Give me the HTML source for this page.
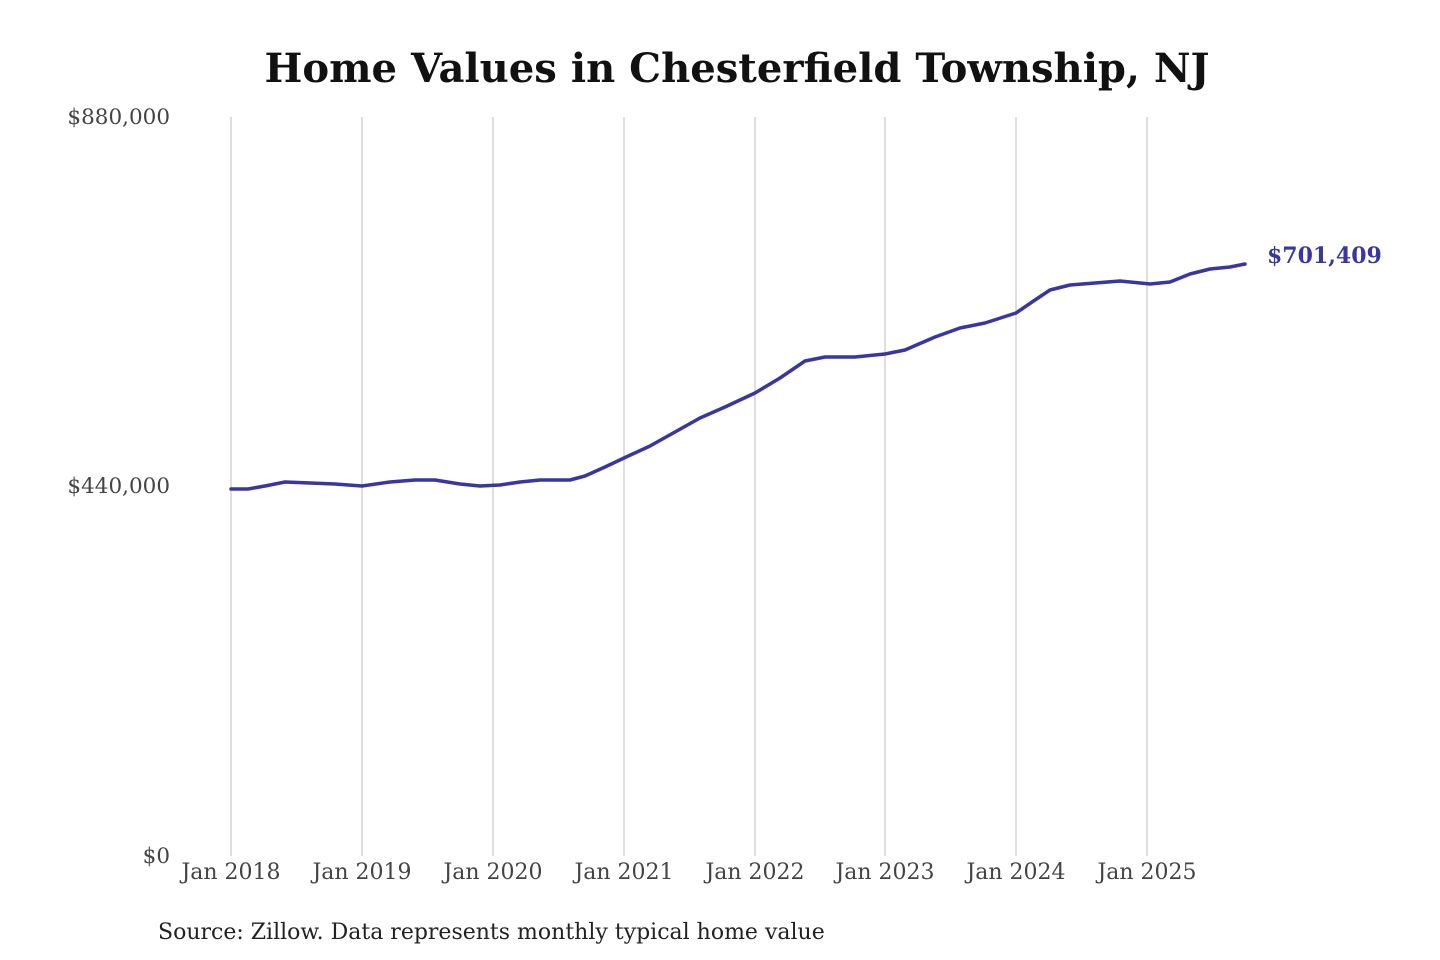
<!DOCTYPE html>
<html><head><meta charset="utf-8"><style>
html,body{margin:0;padding:0;background:#fff;}
svg{display:block;}
text{font-family:"DejaVu Serif","Liberation Serif",serif;}
</style></head><body>
<svg width="1440" height="960" viewBox="0 0 1440 960" xmlns="http://www.w3.org/2000/svg">
<rect width="1440" height="960" fill="#fff"/>
<text x="737" y="82" text-anchor="middle" font-size="40" font-weight="bold" fill="#111" textLength="945" lengthAdjust="spacingAndGlyphs">Home Values in Chesterfield Township, NJ</text>
<g stroke="#c8c8c8" stroke-width="1.2">
<line x1="231" y1="117" x2="231" y2="856"/>
<line x1="362" y1="117" x2="362" y2="856"/>
<line x1="493" y1="117" x2="493" y2="856"/>
<line x1="624" y1="117" x2="624" y2="856"/>
<line x1="755" y1="117" x2="755" y2="856"/>
<line x1="885" y1="117" x2="885" y2="856"/>
<line x1="1016" y1="117" x2="1016" y2="856"/>
<line x1="1147" y1="117" x2="1147" y2="856"/>
</g>
<g font-size="21.5" fill="#444" text-anchor="end">
<text x="170" y="124">$880,000</text>
<text x="170" y="493">$440,000</text>
<text x="170" y="863">$0</text>
</g>
<g font-size="22" fill="#444" text-anchor="middle">
<text x="231" y="879">Jan 2018</text>
<text x="362" y="879">Jan 2019</text>
<text x="493" y="879">Jan 2020</text>
<text x="624" y="879">Jan 2021</text>
<text x="755" y="879">Jan 2022</text>
<text x="885" y="879">Jan 2023</text>
<text x="1016" y="879">Jan 2024</text>
<text x="1147" y="879">Jan 2025</text>
</g>
<polyline fill="none" stroke="#3a35a0" stroke-width="3.5" stroke-linejoin="round" stroke-linecap="round"
points="231,489 248,489 265,486 285,482 310,483 335,484 362,486 390,482 415,480 435,480 460,484 480,486 500,485 520,482 540,480 570,480 585,476 605,467 624,458 650,446 675,432 700,418 725,407 755,393 780,378 805,361 825,357 855,357 885,354 905,350 935,337 960,328 985,323 1016,313 1035,300 1050,290 1070,285 1095,283 1120,281 1150,284 1170,282 1190,274 1210,269 1230,267 1245,264"/>
<text x="1267" y="263" font-size="22" font-weight="bold" fill="#3a35a0">$701,409</text>
<text x="158" y="939" font-size="22" fill="#222">Source: Zillow. Data represents monthly typical home value</text>
</svg>
</body></html>
